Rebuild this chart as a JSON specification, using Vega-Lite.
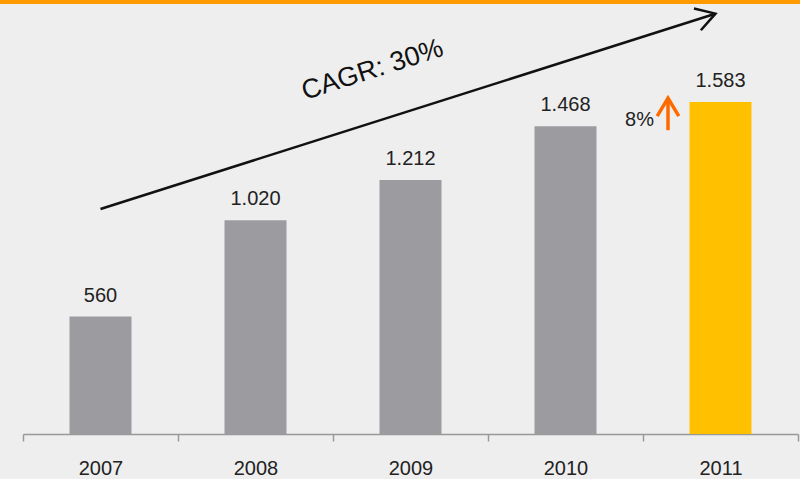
{
  "$schema": "https://vega.github.io/schema/vega-lite/v6.json",
  "width": 800,
  "height": 434,
  "autosize": {"type": "none"},
  "padding": {"left": 0, "top": 0, "right": 0, "bottom": 45},
  "background": "#eeeeee",
  "config": {
    "view": {"stroke": null},
    "font": "Liberation Sans",
    "locale": {"number": {"decimal": ",", "thousands": ".", "grouping": [3], "currency": ["", ""]}}
  },
  "datasets": {
    "bars": [
      {"year": "2007", "value": 560, "hl": "no"},
      {"year": "2008", "value": 1020, "hl": "no"},
      {"year": "2009", "value": 1212, "hl": "no"},
      {"year": "2010", "value": 1468, "hl": "no"},
      {"year": "2011", "value": 1583, "hl": "yes"}
    ]
  },
  "layer": [
    {
      "data": {"name": "bars"},
      "mark": {"type": "bar", "width": {"band": 0.4}},
      "encoding": {
        "x": {
          "field": "year", "type": "ordinal",
          "scale": {"range": [23, 798], "paddingInner": 0, "paddingOuter": 0},
          "axis": {
            "title": null, "labelAngle": 0, "tickBand": "extent",
            "domainColor": "#999999", "tickColor": "#999999", "tickSize": 7,
            "domainWidth": 1.5, "tickWidth": 1.5,
            "labelFontSize": 20, "labelColor": "#222222", "labelPadding": 17,
            "labelFont": "Liberation Sans"
          }
        },
        "y": {
          "field": "value", "type": "quantitative",
          "scale": {"domain": [0, 2070], "nice": false},
          "axis": null
        },
        "color": {
          "field": "hl", "type": "nominal",
          "scale": {"domain": ["no", "yes"], "range": ["#9c9ba0", "#ffc000"]},
          "legend": null
        }
      }
    },
    {
      "data": {"name": "bars"},
      "mark": {"type": "text", "baseline": "alphabetic", "dy": -15, "fontSize": 20, "color": "#222222"},
      "encoding": {
        "x": {"field": "year", "type": "ordinal"},
        "y": {"field": "value", "type": "quantitative"},
        "text": {"field": "value", "type": "quantitative", "format": ",d"}
      }
    },
    {
      "data": {"values": [{"x1": "2007", "x2": "2011", "y1": 1073, "y2": 2003}]},
      "mark": {"type": "rule", "strokeWidth": 2.5, "color": "#111111", "x2Offset": -6},
      "encoding": {
        "x": {"field": "x1", "type": "ordinal"},
        "x2": {"field": "x2"},
        "y": {"field": "y1", "type": "quantitative"},
        "y2": {"field": "y2"}
      }
    },
    {
      "data": {"values": [{"x": "2011", "y": 2005}]},
      "mark": {"type": "point", "shape": "M-1,-0.6L0,0L-1,0.6", "filled": false, "strokeWidth": 2.5, "color": "#111111", "size": 1444, "angle": 342.4, "opacity": 1, "xOffset": -5},
      "encoding": {
        "x": {"field": "x", "type": "ordinal"},
        "y": {"field": "y", "type": "quantitative"}
      }
    },
    {
      "data": {"values": [{"x": "2009", "y": 1736, "label": "CAGR: 30%"}]},
      "mark": {"type": "text", "angle": 342.3, "fontSize": 27, "align": "center", "baseline": "middle", "color": "#111111", "xOffset": -38},
      "encoding": {
        "x": {"field": "x", "type": "ordinal"},
        "y": {"field": "y", "type": "quantitative"},
        "text": {"field": "label"}
      }
    },
    {
      "data": {"values": [{"x": "2011", "y": 1497, "label": "8%"}]},
      "mark": {"type": "text", "fontSize": 20, "align": "center", "baseline": "middle", "color": "#222222", "xOffset": -81},
      "encoding": {
        "x": {"field": "x", "type": "ordinal"},
        "y": {"field": "y", "type": "quantitative"},
        "text": {"field": "label"}
      }
    },
    {
      "data": {"values": [{"x": "2011", "y1": 1449, "y2": 1598}]},
      "mark": {"type": "rule", "strokeWidth": 3.5, "color": "#ff6a00", "xOffset": -52.5},
      "encoding": {
        "x": {"field": "x", "type": "ordinal"},
        "y": {"field": "y1", "type": "quantitative"},
        "y2": {"field": "y2"}
      }
    },
    {
      "data": {"values": [{"x": "2011", "y": 1602}]},
      "mark": {"type": "point", "shape": "M-1,-0.6L0,0L-1,0.6", "filled": false, "strokeWidth": 3.5, "color": "#ff6a00", "size": 1296, "angle": 270, "opacity": 1, "xOffset": -52.5},
      "encoding": {
        "x": {"field": "x", "type": "ordinal"},
        "y": {"field": "y", "type": "quantitative"}
      }
    },
    {
      "data": {"values": [{"y": 2070}]},
      "mark": {"type": "rule", "strokeWidth": 8, "color": "#ff9900"},
      "encoding": {
        "y": {"field": "y", "type": "quantitative"}
      }
    }
  ]
}
